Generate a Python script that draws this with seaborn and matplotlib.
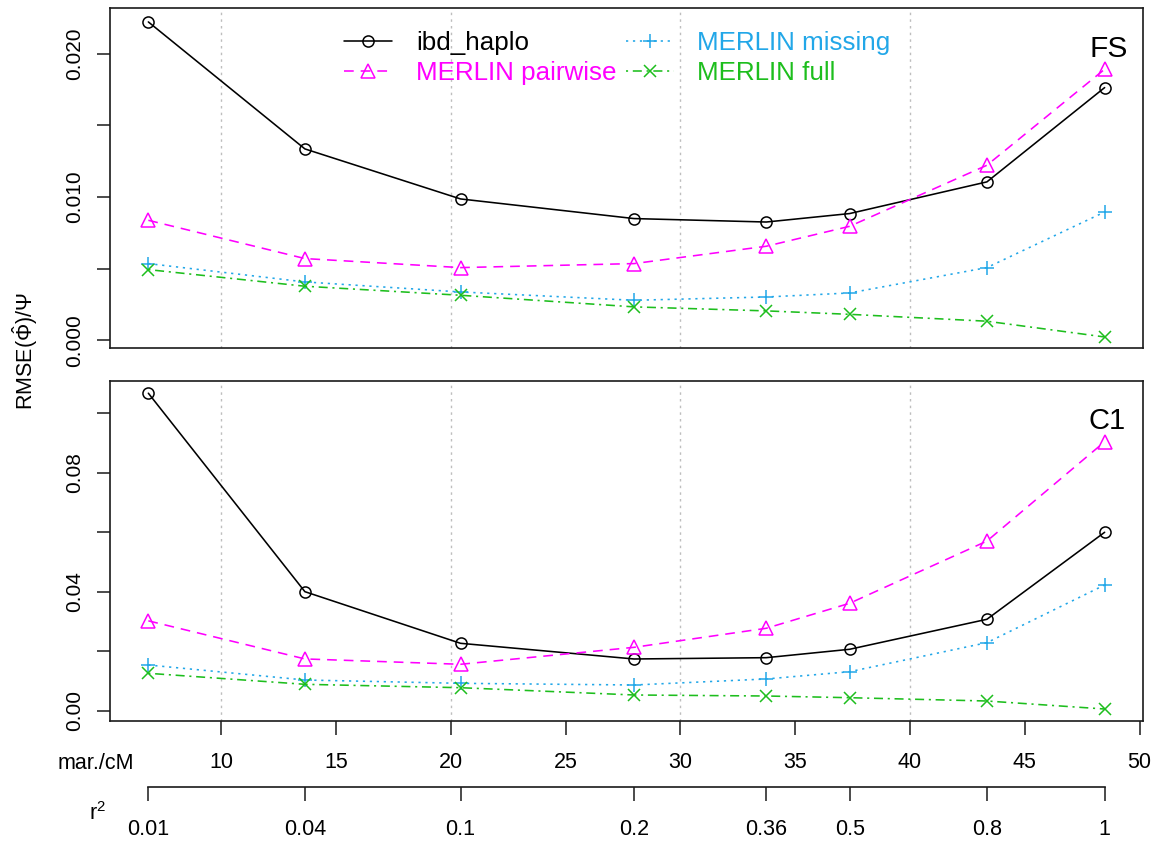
import matplotlib
matplotlib.use("Agg")
import matplotlib.pyplot as plt
import seaborn as sns

# ---------------- data ----------------
marker_density = [6.82, 13.64, 20.42, 27.98, 33.74, 37.37, 43.35, 48.48]   # mar./cM
r2_labels = ["0.01", "0.04", "0.1", "0.2", "0.36", "0.5", "0.8", "1"]
density_ticks = [10, 15, 20, 25, 30, 35, 40, 45, 50]
reference_lines = [10, 20, 30, 40]

fs_ibd_haplo = [0.02221, 0.01335, 0.00986, 0.00849, 0.00825, 0.00884, 0.01105, 0.01763]
fs_merlin_pairwise = [0.00837, 0.00570, 0.00507, 0.00535, 0.00656, 0.00795, 0.01221, 0.01891]
fs_merlin_missing = [0.00535, 0.00407, 0.00337, 0.00279, 0.00302, 0.00330, 0.00507, 0.00895]
fs_merlin_full = [0.00493, 0.00377, 0.00314, 0.00233, 0.00205, 0.00181, 0.00133, 0.00023]

c1_ibd_haplo = [0.1067, 0.0400, 0.02265, 0.01738, 0.01782, 0.02064, 0.03072, 0.05997]
c1_merlin_pairwise = [0.0302, 0.0174, 0.0156, 0.0213, 0.0277, 0.0361, 0.0570, 0.0904]
c1_merlin_missing = [0.01536, 0.01032, 0.0092, 0.00864, 0.01066, 0.01311, 0.02286, 0.04225]
c1_merlin_full = [0.01257, 0.00887, 0.00773, 0.00528, 0.00494, 0.00437, 0.00326, 0.00057]

series_names = ["ibd_haplo", "MERLIN pairwise", "MERLIN missing", "MERLIN full"]
fs_values = [fs_ibd_haplo, fs_merlin_pairwise, fs_merlin_missing, fs_merlin_full]
c1_values = [c1_ibd_haplo, c1_merlin_pairwise, c1_merlin_missing, c1_merlin_full]

fs_yticks = [0.0, 0.005, 0.010, 0.015, 0.020]
fs_yticklabels = ["0.000", "", "0.010", "", "0.020"]
c1_yticks = [0.0, 0.02, 0.04, 0.06, 0.08, 0.10]
c1_yticklabels = ["0.00", "", "0.04", "", "0.08", ""]

# ---------------- styles ----------------
sns.set_theme(style="white")
plt.rcParams["font.family"] = ["Liberation Sans", "DejaVu Sans"]
plt.rcParams["mathtext.fontset"] = "custom"
plt.rcParams["mathtext.rm"] = "Liberation Sans"
plt.rcParams["mathtext.it"] = "Liberation Sans:italic"
plt.rcParams["mathtext.bf"] = "Liberation Sans:bold"
plt.rcParams["lines.scale_dashes"] = False
for key in ("text.color", "axes.labelcolor", "xtick.color", "ytick.color",
            "axes.edgecolor"):
    plt.rcParams[key] = "black"

styles = {
    "ibd_haplo": dict(color="black", marker="o", ms=8.0, ls="-"),
    "MERLIN pairwise": dict(color="#FF00FF", marker="^", ms=10.0, ls=(0, (7.0, 5.0))),
    "MERLIN missing": dict(color="#22A7E8", marker="+", ms=10.0, ls=(0, (1.6, 3.4))),
    "MERLIN full": dict(color="#1DBE1D", marker="x", ms=8.0, ls=(0, (1.5, 3.4, 6.5, 3.4))),
}

W, H = 1156, 842
fig = plt.figure(figsize=(W / 100, H / 100), dpi=100)


def fx(px):
    return px / W


def fy(py):
    return 1 - py / H


left, right = 110, 1143
ax1 = fig.add_axes([fx(left), fy(348.3), (right - left) / W, (348.3 - 8.3) / H])
ax2 = fig.add_axes([fx(left), fy(721), (right - left) / W, (721 - 380.7) / H])

for ax, values in [(ax1, fs_values), (ax2, c1_values)]:
    for name, vals in zip(series_names, values):
        st = styles[name]
        sns.lineplot(x=marker_density, y=vals, ax=ax, color=st["color"],
                     marker=st["marker"], markersize=st["ms"], mfc="none",
                     mec=st["color"], mew=1.1, linestyle=st["ls"], lw=1.15,
                     label=name, errorbar=None, zorder=3)
    for xv in reference_lines:
        ax.axvline(xv, color="#BEBEBE", lw=1.0, linestyle=(0, (1.8, 3.0)), zorder=1)
    ax.set_xlim(5.15, 50.15)
    for sp in ax.spines.values():
        sp.set_visible(True)
        sp.set_color("#1a1a1a")
        sp.set_linewidth(1.2)
    ax.set_xlabel("")
    ax.set_ylabel("")
    if ax.get_legend() is not None:
        ax.get_legend().remove()

ax1.set_ylim(-0.00056, 0.02316)
ax2.set_ylim(-0.00346, 0.1109)

ax1.set_yticks(fs_yticks)
ax1.set_yticklabels(fs_yticklabels, rotation=90, va="center")
ax2.set_yticks(c1_yticks)
ax2.set_yticklabels(c1_yticklabels, rotation=90, va="center")

ax1.tick_params(axis="x", bottom=False, labelbottom=False)
for ax in (ax1, ax2):
    ax.tick_params(axis="y", left=True, length=9.5, width=1.1, pad=9,
                   labelsize=15, color="#1a1a1a", labelcolor="black")
ax2.set_xticks(density_ticks)
ax2.tick_params(axis="x", bottom=True, length=10, width=1.1, pad=12.5,
                labelsize=15.5, color="#1a1a1a", labelcolor="black")

# secondary r^2 axis
ax3 = fig.add_axes([fx(left), fy(787), (right - left) / W, 0.001])
ax3.set_xlim(ax2.get_xlim())
ax3.patch.set_visible(False)
for k in ("top", "left", "right"):
    ax3.spines[k].set_visible(False)
ax3.spines["bottom"].set_visible(True)
ax3.spines["bottom"].set_color("#1a1a1a")
ax3.spines["bottom"].set_linewidth(1.2)
ax3.spines["bottom"].set_bounds(marker_density[0], marker_density[-1])
ax3.set_yticks([])
ax3.set_xticks(marker_density)
ax3.set_xticklabels(r2_labels)
ax3.tick_params(axis="x", bottom=True, length=10, width=1.1, pad=13,
                labelsize=15.5, color="#1a1a1a", labelcolor="black")

# legend
handles, labels = ax1.get_legend_handles_labels()
leg = ax1.legend(handles[:4], labels[:4], loc="upper left",
                 bbox_to_anchor=(fx(344), fy(31)), bbox_transform=fig.transFigure,
                 ncol=2, frameon=False, fontsize=18.7, handlelength=1.85,
                 handletextpad=0.92, columnspacing=0.35, labelspacing=0.22,
                 borderpad=0, borderaxespad=0, labelcolor="linecolor")

# panel labels
ax1.text(0.9855, 0.8576, "FS", transform=ax1.transAxes, ha="right",
         va="baseline", fontsize=21.5, color="black")
ax2.text(0.9835, 0.857, "C1", transform=ax2.transAxes, ha="right",
         va="baseline", fontsize=21, color="black")

# axis labels
fig.text(fx(96), fy(769), "mar./cM", ha="center", va="baseline", fontsize=15.5)
fig.text(fx(89), fy(820), r"r$^{2}$", ha="left", va="baseline", fontsize=15.5)
fig.text(fx(33), fy(351.5), r"RMSE($\hat{\Phi}$)/$\Psi$", rotation=90,
         rotation_mode="anchor", ha="center", va="baseline", fontsize=15.5)

fig.savefig("out.png", dpi=100)
